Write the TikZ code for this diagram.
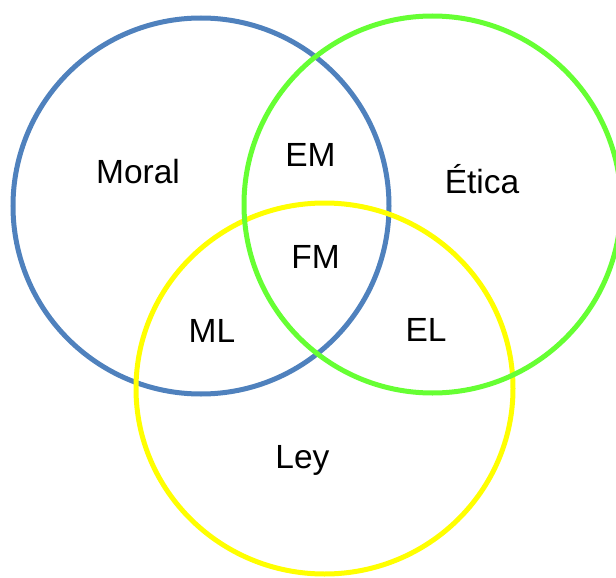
\documentclass[tikz,border=0pt]{standalone}
\usepackage{fontspec}
\setmainfont{Liberation Sans}
\definecolor{cblue}{HTML}{4F81BD}
\definecolor{cgreen}{HTML}{66FF33}
\definecolor{cyellow}{HTML}{FFFF00}
\begin{document}
\begin{tikzpicture}[x=1pt,y=-1pt,
  ring/.style={line width=5pt},
  lbl/.style={anchor=base,inner sep=0pt,font=\fontsize{33.5}{40}\selectfont}]
\useasboundingbox (0,0) rectangle (616,578);
\draw[ring,cblue] (201,206) circle[radius=188];
\draw[ring,cyellow] (324.5,388.5) ellipse[x radius=188.5,y radius=185.5];
\draw[ring,cgreen] (432.5,204.5) circle[radius=188.5];
\node[lbl] (moral) at (138,183.6) {Moral};
\node[lbl] (em) at (310.5,166) {EM};
\node[lbl] (etica) at (482,193.5) {Ética};
\node[lbl] (fm) at (315.5,268) {FM};
\node[lbl] (ml) at (212,342.8) {ML};
\node[lbl] (el) at (426,341) {EL};
\node[lbl] (ley) at (302.5,468) {Ley};
\end{tikzpicture}
\end{document}
